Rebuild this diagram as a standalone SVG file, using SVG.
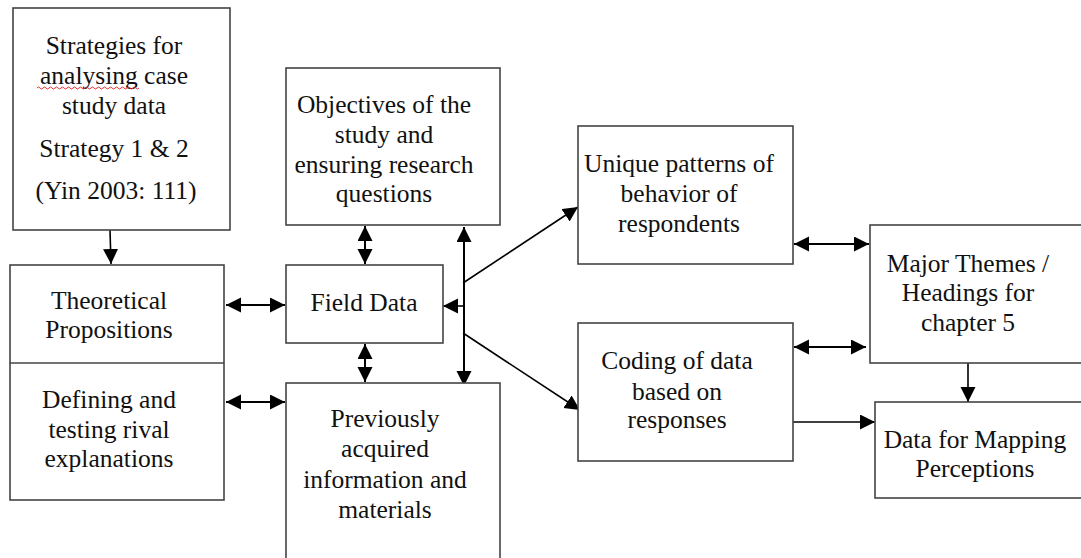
<svg xmlns="http://www.w3.org/2000/svg" width="1081" height="558" viewBox="0 0 1081 558">
  <style>
    .box { fill: #ffffff; stroke: #444444; stroke-width: 1.6; }
    .lbl { font-family: "Liberation Serif", "Times New Roman", serif; font-size: 25.5px; fill: #111111; text-anchor: middle; }
    .ln { fill: none; stroke: #000000; stroke-width: 1.6; }
    .arr { marker-end: url(#head); }
    .dbl { marker-start: url(#head); marker-end: url(#head); stroke-width: 2; }
  </style>
  <defs>
    <marker id="head" markerUnits="userSpaceOnUse" markerWidth="16" markerHeight="16" refX="15" refY="7.5" orient="auto-start-reverse">
      <path d="M0,0 L15,7.5 L0,15 z" fill="#000000"/>
    </marker>
  </defs>
  <rect width="1081" height="558" fill="#ffffff"/>

  <!-- connectors -->
  <g id="connectors">
    <line class="ln arr" x1="110" y1="230" x2="111" y2="264"/>
    <line class="ln dbl" x1="226" y1="305" x2="285" y2="305"/>
    <line class="ln dbl" x1="226" y1="402" x2="285" y2="402"/>
    <line class="ln dbl" x1="365" y1="226" x2="365" y2="264"/>
    <line class="ln dbl" x1="365" y1="344" x2="365" y2="382"/>
    <line class="ln dbl" x1="464" y1="227" x2="464" y2="386"/>
    <line class="ln arr" x1="464" y1="306" x2="443" y2="306"/>
    <line class="ln arr" x1="463" y1="283" x2="578" y2="207"/>
    <line class="ln arr" x1="463" y1="333" x2="580" y2="410"/>
    <line class="ln dbl" x1="794" y1="244" x2="869" y2="244"/>
    <line class="ln dbl" x1="794" y1="347" x2="866" y2="347"/>
    <line class="ln arr" x1="968" y1="363" x2="968" y2="402"/>
    <line class="ln arr" x1="793" y1="422" x2="875" y2="422"/>
  </g>

  <!-- strategies box -->
  <g id="strategies">
    <rect class="box" x="13" y="8" width="217" height="222"/>
    <text class="lbl" x="114" y="54">Strategies for</text>
    <text class="lbl" x="114" y="84">analysing case</text>
    <path d="M37,88 q1.5,-2 3,0 t3,0 t3,0 t3,0 t3,0 t3,0 t3,0 t3,0 t3,0 t3,0 t3,0 t3,0 t3,0 t3,0 t3,0 t3,0 t3,0 t3,0 t3,0 t3,0 t3,0 t3,0 t3,0 t3,0 t3,0 t3,0 t3,0 t3,0 t3,0 t3,0 t3,0 t3,0 t3,0 t3,0" fill="none" stroke="#e03030" stroke-width="1"/>
    <text class="lbl" x="114" y="114">study data</text>
    <text class="lbl" x="114" y="157">Strategy 1 &amp; 2</text>
    <text class="lbl" x="116" y="199">(Yin 2003: 111)</text>
  </g>

  <!-- theoretical propositions / rival explanations -->
  <g id="propositions">
    <rect class="box" x="10" y="265" width="214" height="235"/>
    <line x1="10" y1="363" x2="224" y2="363" stroke="#444444" stroke-width="1.6"/>
    <text class="lbl" x="109" y="309">Theoretical</text>
    <text class="lbl" x="109" y="338">Propositions</text>
    <text class="lbl" x="109" y="408">Defining and</text>
    <text class="lbl" x="109" y="438">testing rival</text>
    <text class="lbl" x="109" y="467">explanations</text>
  </g>

  <g id="objectives">
    <rect class="box" x="286" y="68" width="214" height="157"/>
    <text class="lbl" x="384" y="113">Objectives of the</text>
    <text class="lbl" x="384" y="143">study and</text>
    <text class="lbl" x="384" y="173">ensuring research</text>
    <text class="lbl" x="384" y="202">questions</text>
  </g>

  <g id="field-data">
    <rect class="box" x="286" y="265" width="157" height="78"/>
    <text class="lbl" x="364" y="311">Field Data</text>
  </g>

  <g id="previous-info">
    <rect class="box" x="286" y="383" width="214" height="190"/>
    <text class="lbl" x="385" y="427">Previously</text>
    <text class="lbl" x="385" y="457">acquired</text>
    <text class="lbl" x="385" y="488">information and</text>
    <text class="lbl" x="385" y="518">materials</text>
  </g>

  <g id="unique-patterns">
    <rect class="box" x="578" y="126" width="215" height="138"/>
    <text class="lbl" x="679" y="172">Unique patterns of</text>
    <text class="lbl" x="679" y="202">behavior of</text>
    <text class="lbl" x="679" y="232">respondents</text>
  </g>

  <g id="coding">
    <rect class="box" x="578" y="323" width="215" height="138"/>
    <text class="lbl" x="677" y="369">Coding of data</text>
    <text class="lbl" x="677" y="400">based on</text>
    <text class="lbl" x="677" y="428">responses</text>
  </g>

  <g id="major-themes">
    <rect class="box" x="870" y="225" width="230" height="138"/>
    <text class="lbl" x="968" y="272">Major Themes /</text>
    <text class="lbl" x="968" y="301">Headings for</text>
    <text class="lbl" x="968" y="331">chapter 5</text>
  </g>

  <g id="mapping-data">
    <rect class="box" x="875" y="402" width="230" height="96"/>
    <text class="lbl" x="975" y="448">Data for Mapping</text>
    <text class="lbl" x="975" y="477">Perceptions</text>
  </g>
</svg>
